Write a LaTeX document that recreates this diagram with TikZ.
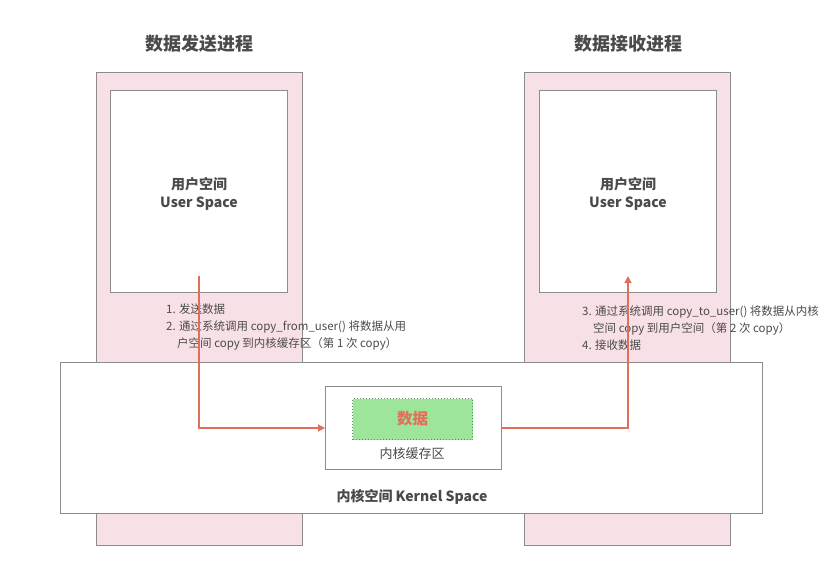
\documentclass[tikz,border=0pt]{standalone}
\usepackage{fontspec}
\setmainfont{Noto Sans CJK SC}
\usetikzlibrary{arrows.meta}
\definecolor{pinkfill}{HTML}{F8E1E6}
\definecolor{edgegray}{HTML}{8C8C8C}
\definecolor{txtgray}{HTML}{4A4A4A}
\definecolor{arrowred}{HTML}{E0705C}
\definecolor{greenfill}{HTML}{9DE59A}
\definecolor{greenedge}{HTML}{4E9A50}
\tikzset{
  procbox/.style={draw=edgegray, line width=1pt, fill=pinkfill, anchor=north west, inner sep=0pt},
  whitebox/.style={draw=edgegray, line width=1pt, fill=white, anchor=north west, inner sep=0pt},
  databox/.style={draw=greenedge, line width=1pt, dotted, fill=greenfill, anchor=north west, inner sep=0pt},
  title/.style={font=\fontsize{18}{20}\selectfont\bfseries, text=txtgray},
  label/.style={font=\fontsize{14}{18}\selectfont\bfseries, text=txtgray, align=center},
  note/.style={font=\fontsize{11.5}{17}\selectfont, text=txtgray, align=left, anchor=north west, inner sep=0pt},
  flow/.style={draw=arrowred, line width=1.2pt, -{Triangle[length=7pt,width=7pt]}},
}
\begin{document}
\begin{tikzpicture}[x=1pt,y=-1pt]
\useasboundingbox (0,0) rectangle (837,560);
% process boxes
\node[procbox, minimum width=206pt, minimum height=473pt] (sendproc) at (96,72) {};
\node[procbox, minimum width=206pt, minimum height=473pt] (recvproc) at (524,72) {};
\node[whitebox, minimum width=177pt, minimum height=202pt] (senduser) at (110,90) {};
\node[whitebox, minimum width=177pt, minimum height=202pt] (recvuser) at (539,90) {};
% titles
\node[title] (sendtitle) at (199,44) {数据发送进程};
\node[title] (recvtitle) at (628,44) {数据接收进程};
% user space labels
\node[label] (sendlabel) at (199,194) {用户空间\\User Space};
\node[label] (recvlabel) at (628,194) {用户空间\\User Space};
% notes
\node[note] (sendnote) at (166,304) {1. 发送数据\\2. 通过系统调用 copy\_from\_user() 将数据从用\\\hspace*{11pt}户空间 copy 到内核缓存区（第 1 次 copy）};
\node[note] (recvnote) at (582,306) {3. 通过系统调用 copy\_to\_user() 将数据从内核\\\hspace*{11pt}空间 copy 到用户空间（第 2 次 copy）\\4. 接收数据};
% kernel
\node[whitebox, minimum width=702pt, minimum height=151pt] (kernel) at (60,362) {};
\node[whitebox, minimum width=176pt, minimum height=83pt] (buffer) at (325,386) {};
\node[databox, minimum width=120pt, minimum height=41pt] (data) at (352,398) {};
\node[font=\fontsize{15.5}{18}\selectfont\bfseries, text=arrowred] (datatext) at (data.center) {数据};
\node[font=\fontsize{13}{15}\selectfont, text=txtgray] (buflabel) at (412,454) {内核缓存区};
\node[font=\fontsize{14}{16}\selectfont\bfseries, text=txtgray] (kernlabel) at (412,497) {内核空间 Kernel Space};
% arrows
\coordinate (sendstart) at (199,276);
\coordinate (recvend) at (628,276);
\draw[flow] (sendstart) |- (buffer.west);
\draw[flow] (buffer.east) -| (recvend);
\end{tikzpicture}
\end{document}
